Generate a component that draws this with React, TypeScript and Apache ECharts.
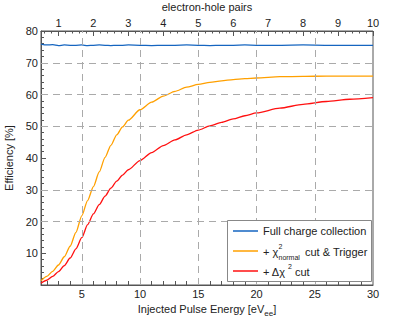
import React, { useEffect, useRef } from "react";
import * as echarts from "echarts";

const energy = [1.5, 2, 2.5, 3, 3.5, 4, 4.5, 5, 5.5, 6, 6.5, 7, 7.5, 8, 8.5, 9, 10, 11, 12, 13, 14, 15, 16, 17, 18, 19, 20, 22, 24, 26, 28, 30];
const fullCharge = [75.9, 75.6, 75.7, 75.4, 75.6, 75.5, 75.5, 75.6, 75.4, 75.5, 75.6, 75.5, 75.4, 75.5, 75.5, 75.6, 75.5, 75.4, 75.5, 75.5, 75.6, 75.5, 75.4, 75.5, 75.5, 75.6, 75.5, 75.5, 75.6, 75.5, 75.5, 75.5];
const chi2Trigger = [1.3, 2.7, 4.3, 6.3, 8.9, 12.2, 16.6, 21.8, 26.6, 31.0, 35.6, 40.2, 44.0, 47.3, 49.8, 51.9, 55.2, 57.6, 59.5, 61.0, 62.3, 63.2, 63.8, 64.3, 64.7, 65.0, 65.2, 65.6, 65.7, 65.8, 65.8, 65.8];
const deltaChi2 = [0.6, 1.5, 2.7, 4.2, 6.1, 8.5, 11.4, 14.9, 19.0, 22.4, 25.3, 28.0, 30.5, 32.7, 34.6, 36.3, 39.2, 41.7, 43.9, 45.7, 47.3, 48.8, 50.1, 51.2, 52.3, 53.3, 54.2, 55.7, 56.9, 57.8, 58.5, 59.0];

const energyLabels = [5, 10, 15, 20, 25, 30];
const energyTicks = [2, 3, 4, 5, 6, 7, 8, 9, 10, 11, 12, 13, 14, 15, 16, 17, 18, 19, 20, 21, 22, 23, 24, 25, 26, 27, 28, 29];
const pairLabels = [1, 2, 3, 4, 5, 6, 7, 8, 9, 10];
const pairMinorTicks = [0.6, 0.8, 1.2, 1.4, 1.6, 1.8, 2.2, 2.4, 2.6, 2.8, 3.2, 3.4, 3.6, 3.8, 4.2, 4.4, 4.6, 4.8, 5.2, 5.4, 5.6, 5.8, 6.2, 6.4, 6.6, 6.8, 7.2, 7.4, 7.6, 7.8, 8.2, 8.4, 8.6, 8.8, 9.2, 9.4, 9.6, 9.8];
const gridX = [5, 10, 15, 20, 25];
const gridY = [20, 30, 50, 60, 70];

const seriesNames = ["Full charge collection", "+ χ²normal cut & Trigger", "+ Δχ² cut"];
const colors = ["#1565c0", "#ffa000", "#ff1010"];

const FONT = "Liberation Sans, Arial, Helvetica, sans-serif";

export default function App() {
  const ref = useRef<HTMLDivElement>(null);
  useEffect(() => {
    document.body.style.margin = "0";
    const chart = echarts.init(ref.current!, null, { renderer: "svg" });
    const pts = (v: number[]) => energy.map((e, i) => [e, v[i]]);
    const txt = { fontFamily: FONT, fontSize: 11, color: "#222" };
    const axisLine = { show: true, lineStyle: { color: "#555", width: 1 } };
    const noSplit = { show: false };
    chart.setOption({
      animation: false,
      textStyle: { fontFamily: FONT },
      grid: {
        left: 41, right: 42, top: 31, bottom: 37, containLabel: false, outerBoundsMode: "none",
        show: true, borderColor: "#555", borderWidth: 1, backgroundColor: "transparent",
      },
      xAxis: [
        {
          type: "value", min: 1.5, max: 30, position: "bottom",
          axisLine,
          axisLabel: { ...txt, margin: 3, customValues: energyLabels },
          axisTick: { inside: true, length: 4, customValues: energyTicks, lineStyle: { color: "#555" } },
          splitLine: noSplit,
          name: "Injected Pulse Energy [eV{sub|ee}]",
          nameLocation: "middle", nameGap: 13,
          nameTextStyle: { ...txt, rich: { sub: { fontFamily: FONT, fontSize: 8, color: "#222", padding: [9, 0, 0, 0] } } },
        },
        {
          type: "value", min: 0.5, max: 10, position: "top",
          axisLine,
          axisLabel: { ...txt, margin: 3, customValues: pairLabels },
          axisTick: { inside: true, length: 5, customValues: pairLabels, lineStyle: { color: "#555" } },
          splitLine: noSplit,
          name: "electron-hole pairs", nameLocation: "middle", nameGap: 19,
          nameTextStyle: { ...txt },
        },
        {
          type: "value", min: 0.5, max: 10, position: "top",
          axisLine: { show: false },
          axisLabel: { show: false },
          axisTick: { inside: true, length: 2.5, customValues: pairMinorTicks, lineStyle: { color: "#555" } },
          splitLine: noSplit,
        },
      ],
      yAxis: {
        type: "value", min: 0, max: 80, interval: 10,
        axisLine,
        axisLabel: { ...txt, margin: 3, showMinLabel: false },
        axisTick: { inside: true, length: 5, lineStyle: { color: "#555" } },
        minorTick: { show: true, splitNumber: 5, length: 3, lineStyle: { color: "#555" } },
        splitLine: noSplit,
        name: "Efficiency [%]", nameLocation: "middle", nameGap: 27,
        nameTextStyle: { ...txt },
      },
      series: [
        {
          name: "grid", type: "line", data: [], z: 1, silent: true,
          markLine: {
            silent: true, symbol: "none", label: { show: false },
            lineStyle: { color: "#aaa", type: [7, 5], width: 1 },
            data: [...gridX.map((x) => ({ xAxis: x })), ...gridY.map((y) => ({ yAxis: y }))],
          },
        },
        ...[fullCharge, chi2Trigger, deltaChi2].map((v, i) => ({
          name: seriesNames[i], type: "line", data: pts(v), showSymbol: false,
          smooth: 0.25, smoothMonotone: "x", z: 3,
          lineStyle: { color: colors[i], width: 1.3 }, itemStyle: { color: colors[i] },
        })),
      ],
      graphic: [
        { type: "rect", shape: { x: 227.5, y: 220.5, width: 144, height: 61 }, style: { fill: "#fff", stroke: "#888", lineWidth: 1 }, z: 10 },
        { type: "line", shape: { x1: 233, y1: 231, x2: 258, y2: 231 }, style: { stroke: colors[0], lineWidth: 1.5 }, z: 11 },
        { type: "line", shape: { x1: 233, y1: 251, x2: 258, y2: 251 }, style: { stroke: colors[1], lineWidth: 1.5 }, z: 11 },
        { type: "line", shape: { x1: 233, y1: 271, x2: 258, y2: 271 }, style: { stroke: colors[2], lineWidth: 1.5 }, z: 11 },
        { type: "text", x: 263, y: 231, z: 11, style: { text: "Full charge collection", font: `11px ${FONT}`, fill: "#222", verticalAlign: "middle" } },
        { type: "text", x: 263, y: 252, z: 11, style: { text: "+ χ", font: `11px ${FONT}`, fill: "#222", verticalAlign: "middle" } },
        { type: "text", x: 278.5, y: 246, z: 11, style: { text: "2", font: `7px ${FONT}`, fill: "#222", verticalAlign: "middle" } },
        { type: "text", x: 278.5, y: 257.5, z: 11, style: { text: "normal", font: `7px ${FONT}`, fill: "#222", verticalAlign: "middle" } },
        { type: "text", x: 305, y: 251.5, z: 11, style: { text: "cut & Trigger", font: `11px ${FONT}`, fill: "#222", verticalAlign: "middle" } },
        { type: "text", x: 263, y: 272, z: 11, style: { text: "+ Δχ", font: `11px ${FONT}`, fill: "#222", verticalAlign: "middle" } },
        { type: "text", x: 288, y: 266.5, z: 11, style: { text: "2", font: `7px ${FONT}`, fill: "#222", verticalAlign: "middle" } },
        { type: "text", x: 295, y: 271.5, z: 11, style: { text: "cut", font: `11px ${FONT}`, fill: "#222", verticalAlign: "middle" } },
      ],
    });
    return () => chart.dispose();
  }, []);
  return <div ref={ref} style={{ position: "absolute", left: 0, top: 0, width: 415, height: 322 }} />;
}
